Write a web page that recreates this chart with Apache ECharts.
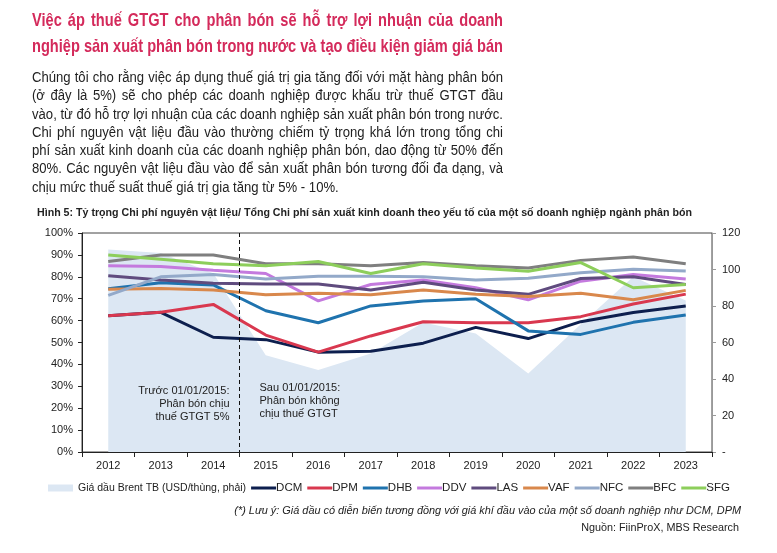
<!DOCTYPE html>
<html><head><meta charset="utf-8">
<script src="https://cdn.jsdelivr.net/npm/echarts@6/dist/echarts.min.js"></script>
<style>
html,body{margin:0;padding:0;width:777px;height:553px;overflow:hidden;background:#fff;}
#chart{position:absolute;left:0;top:0;width:777px;height:553px;}
.blk{position:absolute;left:32px;transform-origin:0 0;font-family:'Liberation Sans',Arial,sans-serif;}
.blk div{white-space:nowrap;}
.blk div.j{text-align:justify;text-align-last:justify;white-space:normal;}
#title{top:7px;color:#d42a5b;font-weight:bold;font-size:18.5px;line-height:26px;}
#body{top:68px;color:#222;font-size:14px;line-height:18.3px;}
</style></head>
<body>
<div id="chart"></div>
<div class="blk" id="title"></div>
<div class="blk" id="body"></div>
<script>
// ---- text ----
const titleLines = [
  "Việc áp thuế GTGT cho phân bón sẽ hỗ trợ lợi nhuận của doanh",
  "nghiệp sản xuất phân bón trong nước và tạo điều kiện giảm giá bán"
];
const bodyLines = [
  "Chúng tôi cho rằng việc áp dụng thuế giá trị gia tăng đối với mặt hàng phân bón",
  "(ở đây là 5%) sẽ cho phép các doanh nghiệp được khấu trừ thuế GTGT đầu",
  "vào, từ đó hỗ trợ lợi nhuận của các doanh nghiệp sản xuất phân bón trong nước.",
  "Chi phí nguyên vật liệu đầu vào thường chiếm tỷ trọng khá lớn trong tổng chi",
  "phí sản xuất kinh doanh của các doanh nghiệp phân bón, dao động từ 50% đến",
  "80%. Các nguyên vật liệu đầu vào để sản xuất phân bón tương đối đa dạng, và",
  "chịu mức thuế suất thuế giá trị gia tăng từ 5% - 10%."
];
const captionText = "Hình 5: Tỷ trọng Chi phí nguyên vật liệu/ Tổng Chi phí sản xuất kinh doanh theo yếu tố của một số doanh nghiệp ngành phân bón";
const noteText = "(*) Lưu ý: Giá dầu có diễn biến tương đồng với giá khí đầu vào của một số doanh nghiệp như DCM, DPM";
const sourceText = "Nguồn: FiinProX, MBS Research";
const beforeText = "Trước 01/01/2015:\nPhân bón chịu\nthuế GTGT 5%";
const afterText = "Sau 01/01/2015:\nPhân bón không\nchịu thuế GTGT";

// ---- data ----
const years = ['2012','2013','2014','2015','2016','2017','2018','2019','2020','2021','2022','2023'];
const brentName = 'Giá dầu Brent TB (USD/thùng, phải)';
const brent = [111, 109, 98, 53, 45, 54, 71, 65, 43, 70, 96, 83];
const DCM = [62.2, 63.8, 52.4, 51.3, 45.6, 46.0, 49.7, 56.9, 51.8, 59.5, 63.7, 66.7];
const DPM = [62.2, 63.8, 67.4, 53.4, 45.6, 53.0, 59.5, 59.0, 59.0, 61.8, 67.6, 72.1];
const DHB = [74.5, 77.3, 76.3, 64.5, 59.0, 66.7, 69.0, 70.0, 55.3, 53.7, 59.2, 62.6];
const DDV = [85.0, 84.7, 83.0, 81.5, 69.0, 76.5, 78.5, 75.0, 69.5, 78.0, 81.0, 79.0];
const LAS = [80.5, 78.5, 77.0, 76.7, 76.7, 74.0, 77.5, 74.0, 72.0, 79.2, 80.0, 76.5];
const VAF = [74.3, 74.7, 74.0, 71.8, 72.5, 71.8, 74.0, 72.0, 71.0, 72.5, 69.5, 73.8];
const NFC = [71.5, 80.0, 81.0, 79.0, 80.3, 80.3, 80.0, 78.5, 79.3, 81.8, 83.5, 82.7];
const BFC = [87.0, 90.0, 90.0, 86.0, 86.0, 85.0, 86.5, 85.0, 84.0, 87.5, 89.0, 86.0];
const SFG = [90.0, 88.0, 86.0, 85.0, 87.0, 81.5, 86.0, 84.0, 82.5, 86.5, 75.0, 76.5];
const leftTicksMax = 100, leftInterval = 10;
const rightTicksMax = 120, rightInterval = 20;

const lineSeries = [
  ['DCM', DCM, '#0d1f4e'],
  ['DPM', DPM, '#d9384f'],
  ['DHB', DHB, '#1f73ae'],
  ['DDV', DDV, '#c47ade'],
  ['LAS', LAS, '#5f4b7e'],
  ['VAF', VAF, '#d9884c'],
  ['NFC', NFC, '#93a9c9'],
  ['BFC', BFC, '#7f7f7f'],
  ['SFG', SFG, '#8dce5b']
];

// ---- header text layout ----
function buildBlock(id, lines, justifyAll, width) {
  const el = document.getElementById(id);
  const meas = document.createElement('span');
  meas.style.cssText = 'position:absolute;visibility:hidden;white-space:nowrap;';
  el.appendChild(meas);
  let s = 10;
  const jl = justifyAll ? lines : lines.slice(0, -1);
  jl.forEach(t => { meas.textContent = t; s = Math.min(s, width / meas.getBoundingClientRect().width); });
  el.removeChild(meas);
  lines.forEach((t, i) => {
    const d = document.createElement('div');
    d.textContent = t;
    if (justifyAll || i < lines.length - 1) { d.className = 'j'; d.style.width = (width / s) + 'px'; }
    el.appendChild(d);
  });
  el.style.transform = 'scaleX(' + s + ')';
}
buildBlock('title', titleLines, true, 471);
buildBlock('body', bodyLines, false, 471);

// ---- chart ----
const chart = echarts.init(document.getElementById('chart'), null, {renderer: 'canvas'});
const font = "'Liberation Sans', Arial, sans-serif";
const series = [{
  name: brentName, type: 'line', yAxisIndex: 1, data: brent, symbol: 'none',
  lineStyle: {width: 0}, areaStyle: {color: '#dce7f3', opacity: 1},
  itemStyle: {color: '#dce7f3'}, z: 1, silent: true
}].concat(lineSeries.map(([n, d, c]) => ({
  name: n, type: 'line', data: d, symbol: 'none', showSymbol: false,
  lineStyle: {width: 3, color: c}, itemStyle: {color: c}, z: 2
})));

const lineIcon = 'path://M0,0H25V3H0Z';
chart.setOption({
  animation: false,
  textStyle: {fontFamily: font},
  grid: {left: 82, right: 65, top: 233, bottom: 101, show: true, borderColor: '#444', borderWidth: 1, backgroundColor: 'transparent'},
  legend: {
    left: 48, top: 482, itemWidth: 25, itemHeight: 8, itemGap: 5, padding: 0,
    textStyle: {fontSize: 11.5, color: '#222', fontFamily: font},
    data: [{name: brentName, icon: 'path://M0,0H25V7H0Z', textStyle: {fontSize: 10.5, padding: [0, 0, 0, 0]}}]
      .concat(lineSeries.map(s => ({name: s[0], icon: lineIcon, textStyle: {fontSize: 11.5, padding: [0, 0, 0, -5]}})))
  },
  xAxis: {
    type: 'category', data: years, boundaryGap: true,
    axisLine: {lineStyle: {color: '#222', width: 1}},
    axisTick: {show: true, length: 5, lineStyle: {color: '#222'}},
    axisLabel: {fontSize: 11, color: '#222', margin: 8},
    splitLine: {show: false}
  },
  yAxis: [{
    type: 'value', min: 0, max: leftTicksMax, interval: leftInterval, position: 'left',
    axisLine: {show: true, lineStyle: {color: '#222'}},
    axisTick: {show: true, length: 4, lineStyle: {color: '#222'}},
    axisLabel: {formatter: '{value}%', fontSize: 11, color: '#222', margin: 9},
    splitLine: {show: false}
  }, {
    type: 'value', min: 0, max: rightTicksMax, interval: rightInterval, position: 'right',
    axisLine: {show: true, lineStyle: {color: '#999'}},
    axisTick: {show: true, length: 4, lineStyle: {color: '#999'}},
    axisLabel: {formatter: v => v === 0 ? '-' : String(v), fontSize: 11, color: '#222', margin: 10},
    splitLine: {show: false}
  }],
  series: series
});

const x14 = chart.convertToPixel({xAxisIndex: 0}, '2014');
const x15 = chart.convertToPixel({xAxisIndex: 0}, '2015');
const xd = (x14 + x15) / 2;
const yTop = chart.convertToPixel({yAxisIndex: 0}, leftTicksMax);
const yBot = chart.convertToPixel({yAxisIndex: 0}, 0);

chart.setOption({
  graphic: [
    {type: 'line', shape: {x1: xd, y1: yTop, x2: xd, y2: yBot}, style: {stroke: '#111', lineWidth: 1, lineDash: [4, 3]}, z: 10},
    {type: 'text', x: xd - 10, y: 384, style: {text: beforeText, align: 'right', verticalAlign: 'top', font: '11px ' + font, fill: '#222', lineHeight: 13}, z: 10},
    {type: 'text', x: xd + 20, y: 381, style: {text: afterText, align: 'left', verticalAlign: 'top', font: '11px ' + font, fill: '#222', lineHeight: 13}, z: 10},
    {type: 'text', x: 37, y: 208, style: {text: captionText, font: 'bold 10.65px ' + font, fill: '#222'}},
    {type: 'text', x: 741, y: 505, style: {text: noteText, align: 'right', font: 'italic 10.9px ' + font, fill: '#222'}},
    {type: 'text', x: 739, y: 523, style: {text: sourceText, align: 'right', font: '10.8px ' + font, fill: '#222'}}
  ]
});
</script>
</body></html>
